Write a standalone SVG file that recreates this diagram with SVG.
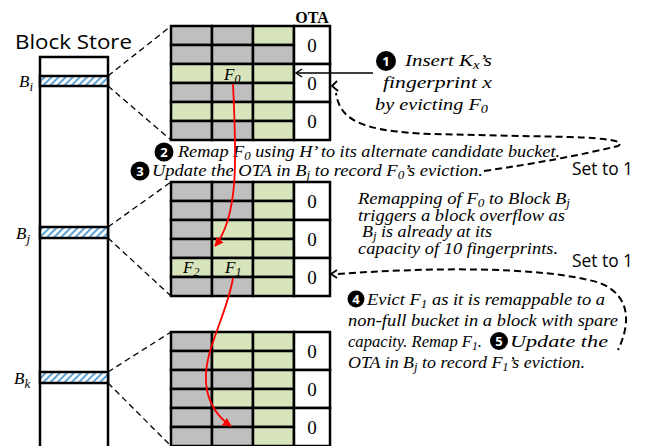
<svg xmlns="http://www.w3.org/2000/svg" width="646" height="446" viewBox="0 0 646 446">
<style>
.g{fill:#bfbfbf;stroke:#000;stroke-width:2.5}
.l{fill:#d7e4bc;stroke:#000;stroke-width:2.5}
.o{fill:#fff;stroke:#000;stroke-width:2.5}
.z{font-size:19px;text-anchor:middle;fill:#000}
.it{font-style:italic;font-size:17px;fill:#000}
.num{font-weight:bold;font-size:13px;fill:#fff;text-anchor:middle}
.dz{fill:none;stroke:#000;stroke-width:1.3;stroke-dasharray:6,4}
.dc{fill:none;stroke:#000;stroke-width:2;stroke-dasharray:7,4}
.red{fill:none;stroke:#ff0000;stroke-width:1.8}
</style>
<defs>
<pattern id="hatch" width="5" height="5" patternUnits="userSpaceOnUse" patternTransform="rotate(45)">
<rect width="5" height="5" fill="#fff"/>
<rect width="2" height="5" fill="#5ba3d9"/>
</pattern>
<marker id="ra" viewBox="0 0 10 10" refX="9" refY="5" markerWidth="5" markerHeight="5" orient="auto" markerUnits="strokeWidth">
<path d="M0,0 L10,5 L0,10 z" fill="#ff0000"/>
</marker>
</defs>

<g id="block-store">
<text font-family="Open Sans, Liberation Sans, sans-serif" x="15" y="49" font-size="20" textLength="117" lengthAdjust="spacingAndGlyphs">Block Store</text>
<rect x="40" y="57" width="68" height="400" fill="#fff" stroke="#000" stroke-width="2.5"/>
<rect x="40" y="76" width="68" height="10" fill="url(#hatch)" stroke="#000" stroke-width="2.5"/>
<rect x="40" y="227" width="68" height="11" fill="url(#hatch)" stroke="#000" stroke-width="2.5"/>
<rect x="40" y="372" width="68" height="11" fill="url(#hatch)" stroke="#000" stroke-width="2.5"/>
<g font-family="Liberation Serif, serif">
<text class="it" x="19" y="87" font-size="19">B<tspan dy="4" font-size="13">i</tspan></text>
<text class="it" x="16" y="239" font-size="19">B<tspan dy="4" font-size="13">j</tspan></text>
<text class="it" x="14" y="384" font-size="19">B<tspan dy="4" font-size="13">k</tspan></text>
</g>
</g>

<g id="block-i" font-family="Liberation Serif, serif">
<rect class="g" x="171" y="26" width="41" height="19"/><rect class="g" x="212" y="26" width="41" height="19"/><rect class="l" x="253" y="26" width="41" height="19"/>
<rect class="g" x="171" y="45" width="41" height="19"/><rect class="g" x="212" y="45" width="41" height="19"/><rect class="g" x="253" y="45" width="41" height="19"/>
<rect class="l" x="171" y="64" width="41" height="19"/><rect class="l" x="212" y="64" width="41" height="19"/><rect class="l" x="253" y="64" width="41" height="19"/>
<rect class="g" x="171" y="83" width="41" height="19"/><rect class="g" x="212" y="83" width="41" height="19"/><rect class="l" x="253" y="83" width="41" height="19"/>
<rect class="l" x="171" y="102" width="41" height="19"/><rect class="l" x="212" y="102" width="41" height="19"/><rect class="l" x="253" y="102" width="41" height="19"/>
<rect class="g" x="171" y="121" width="41" height="19"/><rect class="g" x="212" y="121" width="41" height="19"/><rect class="l" x="253" y="121" width="41" height="19"/>
<rect class="o" x="294" y="26" width="36" height="38"/><rect class="o" x="294" y="64" width="36" height="38"/><rect class="o" x="294" y="102" width="36" height="38"/>
<text class="z" x="312" y="52">0</text><text class="z" x="312" y="90">0</text><text class="z" x="312" y="128">0</text>
<text x="312" y="23" font-weight="bold" font-size="16" text-anchor="middle">OTA</text>
<text class="it" x="224" y="80">F<tspan dy="3" font-size="12">0</tspan></text>
</g>

<g id="block-j" font-family="Liberation Serif, serif">
<rect class="g" x="171" y="182" width="41" height="19"/><rect class="g" x="212" y="182" width="41" height="19"/><rect class="l" x="253" y="182" width="41" height="19"/>
<rect class="g" x="171" y="201" width="41" height="19"/><rect class="g" x="212" y="201" width="41" height="19"/><rect class="l" x="253" y="201" width="41" height="19"/>
<rect class="g" x="171" y="220" width="41" height="19"/><rect class="l" x="212" y="220" width="41" height="19"/><rect class="l" x="253" y="220" width="41" height="19"/>
<rect class="g" x="171" y="239" width="41" height="19"/><rect class="l" x="212" y="239" width="41" height="19"/><rect class="l" x="253" y="239" width="41" height="19"/>
<rect class="l" x="171" y="258" width="41" height="19"/><rect class="l" x="212" y="258" width="41" height="19"/><rect class="l" x="253" y="258" width="41" height="19"/>
<rect class="g" x="171" y="277" width="41" height="19"/><rect class="g" x="212" y="277" width="41" height="19"/><rect class="l" x="253" y="277" width="41" height="19"/>
<rect class="o" x="294" y="182" width="36" height="38"/><rect class="o" x="294" y="220" width="36" height="38"/><rect class="o" x="294" y="258" width="36" height="38"/>
<text class="z" x="312" y="208">0</text><text class="z" x="312" y="246">0</text><text class="z" x="312" y="284">0</text>
<text class="it" x="183" y="273">F<tspan dy="3" font-size="12">2</tspan></text>
<text class="it" x="225" y="273">F<tspan dy="3" font-size="12">1</tspan></text>
</g>

<g id="block-k" font-family="Liberation Serif, serif">
<rect class="g" x="171" y="332" width="41" height="19"/><rect class="l" x="212" y="332" width="41" height="19"/><rect class="l" x="253" y="332" width="41" height="19"/>
<rect class="g" x="171" y="351" width="41" height="19"/><rect class="l" x="212" y="351" width="41" height="19"/><rect class="l" x="253" y="351" width="41" height="19"/>
<rect class="g" x="171" y="370" width="41" height="19"/><rect class="g" x="212" y="370" width="41" height="19"/><rect class="l" x="253" y="370" width="41" height="19"/>
<rect class="g" x="171" y="389" width="41" height="19"/><rect class="l" x="212" y="389" width="41" height="19"/><rect class="l" x="253" y="389" width="41" height="19"/>
<rect class="g" x="171" y="408" width="41" height="19"/><rect class="g" x="212" y="408" width="41" height="19"/><rect class="l" x="253" y="408" width="41" height="19"/>
<rect class="g" x="171" y="427" width="41" height="19"/><rect class="g" x="212" y="427" width="41" height="19"/><rect class="l" x="253" y="427" width="41" height="19"/>
<rect class="o" x="294" y="332" width="36" height="38"/><rect class="o" x="294" y="370" width="36" height="38"/><rect class="o" x="294" y="408" width="36" height="38"/>
<text class="z" x="312" y="358">0</text><text class="z" x="312" y="396">0</text><text class="z" x="312" y="434">0</text>
</g>

<g id="annotations" font-family="Liberation Serif, serif">
<g font-family="Open Sans, Liberation Sans, sans-serif">
<circle cx="386" cy="61" r="10" fill="#000"/><text class="num" x="386" y="66">1</text>
<circle cx="164" cy="152" r="9.5" fill="#000"/><text class="num" x="164" y="157">2</text>
<circle cx="140" cy="171" r="9.5" fill="#000"/><text class="num" x="140" y="176">3</text>
<circle cx="356" cy="299" r="8.5" fill="#000"/><text class="num" x="356" y="303.5" font-size="12">4</text>
<circle cx="499" cy="341" r="9" fill="#000"/><text class="num" x="499" y="346">5</text>
<text x="572" y="175" font-size="18" textLength="61" lengthAdjust="spacingAndGlyphs">Set to 1</text>
<text x="572" y="267" font-size="18" textLength="61" lengthAdjust="spacingAndGlyphs">Set to 1</text>
</g>
<text class="it" x="405" y="66" textLength="87" lengthAdjust="spacingAndGlyphs">Insert K<tspan dy="3" font-size="12">x</tspan><tspan dy="-3">’s</tspan></text>
<text class="it" x="383" y="88" textLength="109" lengthAdjust="spacingAndGlyphs">fingerprint x</text>
<text class="it" x="375" y="110" textLength="113" lengthAdjust="spacingAndGlyphs">by evicting F<tspan dy="3" font-size="12">0</tspan></text>

<text class="it" x="178" y="157" textLength="382" lengthAdjust="spacingAndGlyphs">Remap F<tspan dy="3" font-size="12">0</tspan><tspan dy="-3"> using H’ to its alternate candidate bucket.</tspan></text>
<text class="it" x="152" y="176" textLength="331" lengthAdjust="spacingAndGlyphs">Update the OTA in B<tspan dy="3" font-size="12">j</tspan><tspan dy="-3"> to record F</tspan><tspan dy="3" font-size="12">0</tspan><tspan dy="-3">’s eviction.</tspan></text>

<text class="it" x="358" y="204" textLength="212" lengthAdjust="spacingAndGlyphs">Remapping of F<tspan dy="3" font-size="12">0</tspan><tspan dy="-3"> to Block B</tspan><tspan dy="3" font-size="12">j</tspan></text>
<text class="it" x="358" y="221" textLength="207" lengthAdjust="spacingAndGlyphs">triggers a block overflow as</text>
<text class="it" x="362" y="237" textLength="130" lengthAdjust="spacingAndGlyphs">B<tspan dy="3" font-size="12">j</tspan><tspan dy="-3"> is already at its</tspan></text>
<text class="it" x="358" y="254" textLength="200" lengthAdjust="spacingAndGlyphs">capacity of 10 fingerprints.</text>

<text class="it" x="367" y="305" textLength="238" lengthAdjust="spacingAndGlyphs">Evict F<tspan dy="3" font-size="12">1</tspan><tspan dy="-3"> as it is remappable to a</tspan></text>
<text class="it" x="348" y="326" textLength="270" lengthAdjust="spacingAndGlyphs">non-full bucket in a block with spare</text>
<text class="it" x="348" y="347" textLength="134" lengthAdjust="spacingAndGlyphs">capacity. Remap F<tspan dy="3" font-size="12">1</tspan><tspan dy="-3">.</tspan></text>
<text class="it" x="510" y="347" textLength="98" lengthAdjust="spacingAndGlyphs">Update the</text>
<text class="it" x="348" y="368" textLength="237" lengthAdjust="spacingAndGlyphs">OTA in B<tspan dy="3" font-size="12">j</tspan><tspan dy="-3"> to record F</tspan><tspan dy="3" font-size="12">1</tspan><tspan dy="-3">’s eviction.</tspan></text>
</g>

<g id="connectors">
<line class="dz" x1="108" y1="76" x2="171" y2="26"/>
<line class="dz" x1="108" y1="86" x2="171" y2="140"/>
<line class="dz" x1="108" y1="227" x2="171" y2="182"/>
<line class="dz" x1="108" y1="238" x2="171" y2="296"/>
<line class="dz" x1="108" y1="372" x2="171" y2="332"/>
<line class="dz" x1="108" y1="383" x2="171" y2="446"/>

<line x1="373" y1="73" x2="297" y2="73" stroke="#000" stroke-width="1.5"/>
<polyline points="302,69 296,73 302,77" fill="none" stroke="#000" stroke-width="1.5"/>

<path class="dc" d="M484,171 Q560,160 618,146 Q630,139 570,137 L430,134 C365,131 340,122 336,93"/>
<polyline points="337,81 332,86 338,91" fill="none" stroke="#000" stroke-width="1.8"/>

<path class="dc" d="M338,274 C420,268 540,265 600,283 C632,296 630,325 618,350"/>
<polyline points="337,270 331,274 337,278" fill="none" stroke="#000" stroke-width="1.8"/>

<path class="red" d="M233,84 C236,150 240,215 215,246" marker-end="url(#ra)"/>
<path class="red" d="M233,278 C226,320 200,355 207,390 C211,410 222,420 231,426" marker-end="url(#ra)"/>
</g>
</svg>
